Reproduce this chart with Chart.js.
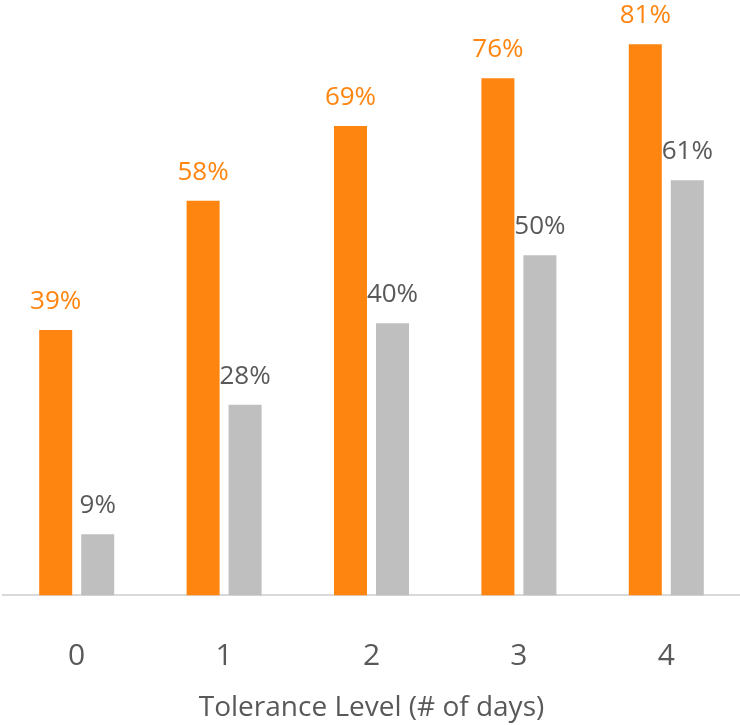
<!DOCTYPE html>
<html>
<head>
<meta charset="utf-8">
<script src="https://cdn.jsdelivr.net/npm/chart.js@4"></script>
<style>
  html, body { margin: 0; padding: 0; background: #fff; }
  #wrap { width: 740px; height: 725px; }
</style>
</head>
<body>
<div id="wrap"><canvas id="chart"></canvas></div>
<script>
// Chart data
const categories = ['0', '1', '2', '3', '4'];
const seriesA = [0.39, 0.58, 0.69, 0.76, 0.81];
const seriesB = [0.09, 0.28, 0.40, 0.50, 0.61];
const xTitle = 'Tolerance Level (# of days)';

const orange = '#FF8511';
const grey = '#BFBFBF';

// Draw value labels above each bar
const valueLabels = {
  id: 'valueLabels',
  afterDatasetsDraw(chart) {
    const ctx = chart.ctx;
    ctx.save();
    ctx.font = '26px "Open Sans", sans-serif';
    ctx.textAlign = 'center';
    ctx.textBaseline = 'alphabetic';
    chart.data.datasets.forEach((ds, i) => {
      const meta = chart.getDatasetMeta(i);
      ctx.fillStyle = ds.labelColor;
      meta.data.forEach((bar, j) => {
        ctx.fillText(Math.round(ds.data[j] * 100) + '%', bar.x, bar.y - 21);
      });
    });
    ctx.restore();
  }
};

const ctx = document.getElementById('chart').getContext('2d');
new Chart(ctx, {
  type: 'bar',
  data: {
    labels: categories,
    datasets: [
      { data: seriesA, backgroundColor: orange, labelColor: orange },
      { data: seriesB, backgroundColor: grey, labelColor: '#595959' }
    ]
  },
  options: {
    responsive: true,
    maintainAspectRatio: false,
    animation: false,
    datasets: {
      bar: { categoryPercentage: 0.57, barPercentage: 0.786 }
    },
    layout: { padding: { left: 3, right: 0, top: 0, bottom: 0 } },
    plugins: {
      legend: { display: false },
      tooltip: { enabled: false }
    },
    scales: {
      y: {
        display: false,
        min: 0,
        max: 0.875
      },
      x: {
        grid: { display: false, drawTicks: true, tickLength: 26 },
        border: { display: true, color: '#D9D9D9', width: 2 },
        ticks: {
          color: '#595959',
          font: { family: '"Open Sans", sans-serif', size: 30 },
          padding: 17
        },
        title: {
          display: true,
          text: xTitle,
          color: '#595959',
          font: { family: '"Open Sans", sans-serif', size: 28 },
          padding: { top: 0, bottom: 0 }
        }
      }
    }
  },
  plugins: [valueLabels]
});
</script>
</body>
</html>
